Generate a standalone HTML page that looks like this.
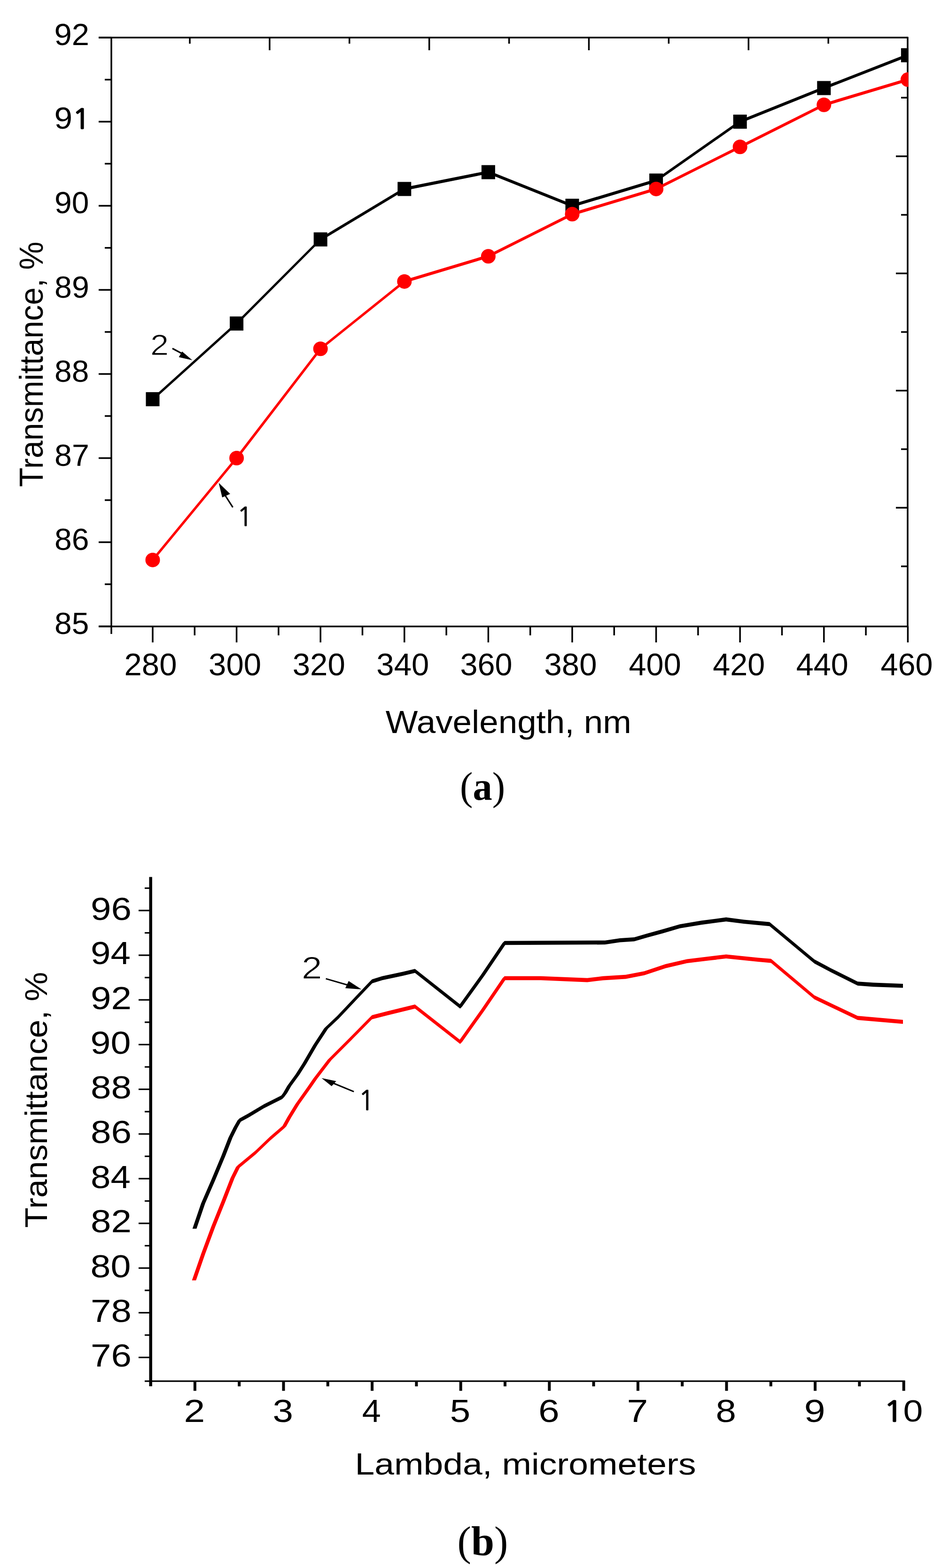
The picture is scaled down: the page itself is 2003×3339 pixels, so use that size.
<!DOCTYPE html>
<html><head><meta charset="utf-8"><title>Transmittance spectra</title>
<style>html,body{margin:0;padding:0;background:#fff}svg{display:block}</style></head>
<body><svg width="2003" height="3339" viewBox="0 0 2003 3339">
<rect width="2003" height="3339" fill="#fff"/>
<line x1="210.0" y1="80.0" x2="1932.0" y2="80.0" stroke="#000" stroke-width="3.5"/>
<line x1="237.0" y1="80.0" x2="237.0" y2="1334.0" stroke="#000" stroke-width="3.5"/>
<line x1="210.0" y1="1334.0" x2="1933.5" y2="1334.0" stroke="#000" stroke-width="3.5"/>
<line x1="1932.0" y1="78.5" x2="1932.0" y2="1335.5" stroke="#000" stroke-width="3.5"/>
<line x1="210.0" y1="80.0" x2="237.0" y2="80.0" stroke="#000" stroke-width="3.5"/>
<line x1="210.0" y1="259.1" x2="237.0" y2="259.1" stroke="#000" stroke-width="3.5"/>
<line x1="210.0" y1="438.2" x2="237.0" y2="438.2" stroke="#000" stroke-width="3.5"/>
<line x1="210.0" y1="617.3" x2="237.0" y2="617.3" stroke="#000" stroke-width="3.5"/>
<line x1="210.0" y1="796.4" x2="237.0" y2="796.4" stroke="#000" stroke-width="3.5"/>
<line x1="210.0" y1="975.5" x2="237.0" y2="975.5" stroke="#000" stroke-width="3.5"/>
<line x1="210.0" y1="1154.6" x2="237.0" y2="1154.6" stroke="#000" stroke-width="3.5"/>
<line x1="210.0" y1="1333.7" x2="237.0" y2="1333.7" stroke="#000" stroke-width="3.5"/>
<line x1="223.0" y1="169.6" x2="237.0" y2="169.6" stroke="#000" stroke-width="3.5"/>
<line x1="223.0" y1="348.6" x2="237.0" y2="348.6" stroke="#000" stroke-width="3.5"/>
<line x1="223.0" y1="527.8" x2="237.0" y2="527.8" stroke="#000" stroke-width="3.5"/>
<line x1="223.0" y1="706.9" x2="237.0" y2="706.9" stroke="#000" stroke-width="3.5"/>
<line x1="223.0" y1="885.9" x2="237.0" y2="885.9" stroke="#000" stroke-width="3.5"/>
<line x1="223.0" y1="1065.0" x2="237.0" y2="1065.0" stroke="#000" stroke-width="3.5"/>
<line x1="223.0" y1="1244.1" x2="237.0" y2="1244.1" stroke="#000" stroke-width="3.5"/>
<line x1="325.0" y1="1334.0" x2="325.0" y2="1368.0" stroke="#000" stroke-width="3.5"/>
<line x1="503.6" y1="1334.0" x2="503.6" y2="1368.0" stroke="#000" stroke-width="3.5"/>
<line x1="682.2" y1="1334.0" x2="682.2" y2="1368.0" stroke="#000" stroke-width="3.5"/>
<line x1="860.8" y1="1334.0" x2="860.8" y2="1368.0" stroke="#000" stroke-width="3.5"/>
<line x1="1039.4" y1="1334.0" x2="1039.4" y2="1368.0" stroke="#000" stroke-width="3.5"/>
<line x1="1218.0" y1="1334.0" x2="1218.0" y2="1368.0" stroke="#000" stroke-width="3.5"/>
<line x1="1396.6" y1="1334.0" x2="1396.6" y2="1368.0" stroke="#000" stroke-width="3.5"/>
<line x1="1575.2" y1="1334.0" x2="1575.2" y2="1368.0" stroke="#000" stroke-width="3.5"/>
<line x1="1753.8" y1="1334.0" x2="1753.8" y2="1368.0" stroke="#000" stroke-width="3.5"/>
<line x1="1932.4" y1="1334.0" x2="1932.4" y2="1368.0" stroke="#000" stroke-width="3.5"/>
<line x1="414.3" y1="1334.0" x2="414.3" y2="1353.0" stroke="#000" stroke-width="3.5"/>
<line x1="592.9" y1="1334.0" x2="592.9" y2="1353.0" stroke="#000" stroke-width="3.5"/>
<line x1="771.5" y1="1334.0" x2="771.5" y2="1353.0" stroke="#000" stroke-width="3.5"/>
<line x1="950.1" y1="1334.0" x2="950.1" y2="1353.0" stroke="#000" stroke-width="3.5"/>
<line x1="1128.7" y1="1334.0" x2="1128.7" y2="1353.0" stroke="#000" stroke-width="3.5"/>
<line x1="1307.3" y1="1334.0" x2="1307.3" y2="1353.0" stroke="#000" stroke-width="3.5"/>
<line x1="1485.9" y1="1334.0" x2="1485.9" y2="1353.0" stroke="#000" stroke-width="3.5"/>
<line x1="1664.5" y1="1334.0" x2="1664.5" y2="1353.0" stroke="#000" stroke-width="3.5"/>
<line x1="1843.1" y1="1334.0" x2="1843.1" y2="1353.0" stroke="#000" stroke-width="3.5"/>
<line x1="237.0" y1="1334.0" x2="237.0" y2="1350.0" stroke="#000" stroke-width="3.5"/>
<line x1="404.0" y1="80.0" x2="404.0" y2="93.0" stroke="#000" stroke-width="3.5"/>
<line x1="573.9" y1="80.0" x2="573.9" y2="107.0" stroke="#000" stroke-width="3.5"/>
<line x1="743.8" y1="80.0" x2="743.8" y2="93.0" stroke="#000" stroke-width="3.5"/>
<line x1="913.7" y1="80.0" x2="913.7" y2="107.0" stroke="#000" stroke-width="3.5"/>
<line x1="1083.6" y1="80.0" x2="1083.6" y2="93.0" stroke="#000" stroke-width="3.5"/>
<line x1="1253.5" y1="80.0" x2="1253.5" y2="107.0" stroke="#000" stroke-width="3.5"/>
<line x1="1423.4" y1="80.0" x2="1423.4" y2="93.0" stroke="#000" stroke-width="3.5"/>
<line x1="1593.3" y1="80.0" x2="1593.3" y2="107.0" stroke="#000" stroke-width="3.5"/>
<line x1="1763.2" y1="80.0" x2="1763.2" y2="93.0" stroke="#000" stroke-width="3.5"/>
<line x1="1918.0" y1="208.0" x2="1932.0" y2="208.0" stroke="#000" stroke-width="3.5"/>
<line x1="1907.0" y1="332.8" x2="1932.0" y2="332.8" stroke="#000" stroke-width="3.5"/>
<line x1="1918.0" y1="457.5" x2="1932.0" y2="457.5" stroke="#000" stroke-width="3.5"/>
<line x1="1907.0" y1="582.2" x2="1932.0" y2="582.2" stroke="#000" stroke-width="3.5"/>
<line x1="1918.0" y1="707.0" x2="1932.0" y2="707.0" stroke="#000" stroke-width="3.5"/>
<line x1="1907.0" y1="831.8" x2="1932.0" y2="831.8" stroke="#000" stroke-width="3.5"/>
<line x1="1918.0" y1="956.5" x2="1932.0" y2="956.5" stroke="#000" stroke-width="3.5"/>
<line x1="1907.0" y1="1081.2" x2="1932.0" y2="1081.2" stroke="#000" stroke-width="3.5"/>
<line x1="1918.0" y1="1206.0" x2="1932.0" y2="1206.0" stroke="#000" stroke-width="3.5"/>
<clipPath id="ca"><rect x="237" y="80" width="1696.5" height="1254"/></clipPath>
<g clip-path="url(#ca)">
<path d="M325.0,846.8L503.6,685.6L503.6,692.3L325.0,853.5ZM500.2,688.9L678.9,509.8L685.6,509.8L507.0,688.9ZM682.2,506.5L860.8,399.0L860.8,405.7L682.2,513.2ZM860.8,399.0L1039.4,363.2L1039.4,369.9L860.8,405.7ZM1039.4,363.2L1218.0,434.8L1218.0,441.6L1039.4,369.9ZM1218.0,434.8L1396.6,381.1L1396.6,387.8L1218.0,441.6ZM1396.6,381.1L1575.2,255.8L1575.2,262.5L1396.6,387.8ZM1575.2,255.8L1753.8,184.1L1753.8,190.8L1575.2,262.5ZM1753.8,184.1L1932.4,114.3L1932.4,121.0L1753.8,190.8ZM503.6,685.6L507.0,688.9L503.6,692.3L500.2,688.9ZM682.2,506.5L685.6,509.8L682.2,513.2L678.9,509.8Z" fill="#000"/>
<rect x="310.5" y="835.1" width="29" height="30" fill="#000"/>
<rect x="489.1" y="673.9" width="29" height="30" fill="#000"/>
<rect x="667.7" y="494.8" width="29" height="30" fill="#000"/>
<rect x="846.3" y="387.4" width="29" height="30" fill="#000"/>
<rect x="1024.9" y="351.6" width="29" height="30" fill="#000"/>
<rect x="1203.5" y="423.2" width="29" height="30" fill="#000"/>
<rect x="1382.1" y="369.5" width="29" height="30" fill="#000"/>
<rect x="1560.7" y="244.1" width="29" height="30" fill="#000"/>
<rect x="1739.3" y="172.5" width="29" height="30" fill="#000"/>
<rect x="1917.9" y="102.6" width="29" height="30" fill="#000"/>
<path d="M321.6,1192.4L500.2,975.5L507.0,975.5L328.4,1192.4ZM500.2,975.5L678.9,742.7L685.6,742.7L507.0,975.5ZM682.2,739.3L860.8,596.0L860.8,602.7L682.2,746.0ZM860.8,596.0L1039.4,542.3L1039.4,549.0L860.8,602.7ZM1039.4,542.3L1218.0,452.8L1218.0,459.5L1039.4,549.0ZM1218.0,452.8L1396.6,399.0L1396.6,405.7L1218.0,459.5ZM1396.6,399.0L1575.2,309.5L1575.2,316.2L1396.6,405.7ZM1575.2,309.5L1753.8,219.9L1753.8,226.6L1575.2,316.2ZM1753.8,219.9L1932.4,166.2L1932.4,172.9L1753.8,226.6ZM682.2,739.3L685.6,742.7L682.2,746.0L678.9,742.7Z" fill="#f00"/>
<circle cx="325.0" cy="1192.4" r="15.5" fill="#f00"/>
<circle cx="503.6" cy="975.5" r="15.5" fill="#f00"/>
<circle cx="682.2" cy="742.7" r="15.5" fill="#f00"/>
<circle cx="860.8" cy="599.4" r="15.5" fill="#f00"/>
<circle cx="1039.4" cy="545.7" r="15.5" fill="#f00"/>
<circle cx="1218.0" cy="456.1" r="15.5" fill="#f00"/>
<circle cx="1396.6" cy="402.4" r="15.5" fill="#f00"/>
<circle cx="1575.2" cy="312.8" r="15.5" fill="#f00"/>
<circle cx="1753.8" cy="223.3" r="15.5" fill="#f00"/>
<circle cx="1932.4" cy="169.6" r="15.5" fill="#f00"/>
</g>
<line x1="367.0" y1="742.0" x2="395.0" y2="757.0" stroke="#000" stroke-width="3.2"/>
<polygon points="387.6,748.5 380.7,760.6 409.4,767.1" fill="#000"/>
<line x1="495.6" y1="1080.4" x2="478.0" y2="1053.0" stroke="#000" stroke-width="3.2"/>
<polygon points="465.6,1028.2 473,1059.2 489.9,1051.8" fill="#000"/>
<line x1="320.7" y1="1867.5" x2="320.7" y2="2952.0" stroke="#000" stroke-width="6.4"/>
<line x1="308.0" y1="2941.2" x2="1926.6" y2="2941.2" stroke="#000" stroke-width="3.2"/>
<line x1="295.0" y1="2890.6" x2="320.7" y2="2890.6" stroke="#000" stroke-width="3.2"/>
<line x1="308.0" y1="2843.0" x2="320.7" y2="2843.0" stroke="#000" stroke-width="3.2"/>
<line x1="295.0" y1="2795.4" x2="320.7" y2="2795.4" stroke="#000" stroke-width="3.2"/>
<line x1="308.0" y1="2747.8" x2="320.7" y2="2747.8" stroke="#000" stroke-width="3.2"/>
<line x1="295.0" y1="2700.3" x2="320.7" y2="2700.3" stroke="#000" stroke-width="3.2"/>
<line x1="308.0" y1="2652.7" x2="320.7" y2="2652.7" stroke="#000" stroke-width="3.2"/>
<line x1="295.0" y1="2605.1" x2="320.7" y2="2605.1" stroke="#000" stroke-width="3.2"/>
<line x1="308.0" y1="2557.5" x2="320.7" y2="2557.5" stroke="#000" stroke-width="3.2"/>
<line x1="295.0" y1="2509.9" x2="320.7" y2="2509.9" stroke="#000" stroke-width="3.2"/>
<line x1="308.0" y1="2462.3" x2="320.7" y2="2462.3" stroke="#000" stroke-width="3.2"/>
<line x1="295.0" y1="2414.8" x2="320.7" y2="2414.8" stroke="#000" stroke-width="3.2"/>
<line x1="308.0" y1="2367.2" x2="320.7" y2="2367.2" stroke="#000" stroke-width="3.2"/>
<line x1="295.0" y1="2319.6" x2="320.7" y2="2319.6" stroke="#000" stroke-width="3.2"/>
<line x1="308.0" y1="2272.0" x2="320.7" y2="2272.0" stroke="#000" stroke-width="3.2"/>
<line x1="295.0" y1="2224.4" x2="320.7" y2="2224.4" stroke="#000" stroke-width="3.2"/>
<line x1="308.0" y1="2176.8" x2="320.7" y2="2176.8" stroke="#000" stroke-width="3.2"/>
<line x1="295.0" y1="2129.2" x2="320.7" y2="2129.2" stroke="#000" stroke-width="3.2"/>
<line x1="308.0" y1="2081.7" x2="320.7" y2="2081.7" stroke="#000" stroke-width="3.2"/>
<line x1="295.0" y1="2034.1" x2="320.7" y2="2034.1" stroke="#000" stroke-width="3.2"/>
<line x1="308.0" y1="1986.5" x2="320.7" y2="1986.5" stroke="#000" stroke-width="3.2"/>
<line x1="295.0" y1="1938.9" x2="320.7" y2="1938.9" stroke="#000" stroke-width="3.2"/>
<line x1="308.0" y1="1891.3" x2="320.7" y2="1891.3" stroke="#000" stroke-width="3.2"/>
<line x1="414.9" y1="2941.2" x2="414.9" y2="2961.7" stroke="#000" stroke-width="6"/>
<line x1="509.2" y1="2941.2" x2="509.2" y2="2952.2" stroke="#000" stroke-width="6"/>
<line x1="603.5" y1="2941.2" x2="603.5" y2="2961.7" stroke="#000" stroke-width="6"/>
<line x1="697.8" y1="2941.2" x2="697.8" y2="2952.2" stroke="#000" stroke-width="6"/>
<line x1="792.1" y1="2941.2" x2="792.1" y2="2961.7" stroke="#000" stroke-width="6"/>
<line x1="886.4" y1="2941.2" x2="886.4" y2="2952.2" stroke="#000" stroke-width="6"/>
<line x1="980.7" y1="2941.2" x2="980.7" y2="2961.7" stroke="#000" stroke-width="6"/>
<line x1="1075.0" y1="2941.2" x2="1075.0" y2="2952.2" stroke="#000" stroke-width="6"/>
<line x1="1169.3" y1="2941.2" x2="1169.3" y2="2961.7" stroke="#000" stroke-width="6"/>
<line x1="1263.6" y1="2941.2" x2="1263.6" y2="2952.2" stroke="#000" stroke-width="6"/>
<line x1="1357.9" y1="2941.2" x2="1357.9" y2="2961.7" stroke="#000" stroke-width="6"/>
<line x1="1452.2" y1="2941.2" x2="1452.2" y2="2952.2" stroke="#000" stroke-width="6"/>
<line x1="1546.5" y1="2941.2" x2="1546.5" y2="2961.7" stroke="#000" stroke-width="6"/>
<line x1="1640.8" y1="2941.2" x2="1640.8" y2="2952.2" stroke="#000" stroke-width="6"/>
<line x1="1735.1" y1="2941.2" x2="1735.1" y2="2961.7" stroke="#000" stroke-width="6"/>
<line x1="1829.4" y1="2941.2" x2="1829.4" y2="2952.2" stroke="#000" stroke-width="6"/>
<line x1="1923.7" y1="2941.2" x2="1923.7" y2="2961.7" stroke="#000" stroke-width="6"/>
<path d="M409.7,2616.6L428.0,2562.7L436.6,2562.7L418.3,2616.6ZM428.0,2562.7L449.6,2513.1L458.2,2513.1L436.6,2562.7ZM449.6,2513.1L471.2,2461.3L479.8,2461.3L458.2,2513.1ZM471.2,2461.3L486.3,2422.5L494.9,2422.5L479.8,2461.3ZM486.3,2422.5L497.0,2400.9L505.6,2400.9L494.9,2422.5ZM497.0,2400.9L505.7,2385.8L514.3,2385.8L505.6,2400.9ZM510.0,2381.5L529.4,2370.8L529.4,2379.4L510.0,2390.1ZM529.4,2370.8L561.7,2351.4L561.7,2360.0L529.4,2379.4ZM561.7,2351.4L600.5,2332.0L600.5,2340.6L561.7,2360.0ZM596.2,2336.3L602.7,2327.6L611.3,2327.6L604.8,2336.3ZM602.7,2327.6L611.3,2312.5L619.9,2312.5L611.3,2327.6ZM611.3,2312.5L628.6,2288.8L637.2,2288.8L619.9,2312.5ZM628.6,2288.8L643.7,2265.1L652.3,2265.1L637.2,2288.8ZM643.7,2265.1L666.7,2225.6L675.3,2225.6L652.3,2265.1ZM666.7,2225.6L689.9,2190.0L698.5,2190.0L675.3,2225.6ZM694.2,2185.7L720.6,2160.8L720.6,2169.4L694.2,2194.3ZM716.3,2165.1L765.9,2112.4L774.5,2112.4L724.9,2165.1ZM765.9,2112.4L787.6,2089.8L796.2,2089.8L774.5,2112.4ZM791.9,2085.5L813.6,2078.7L813.6,2087.3L791.9,2094.1ZM813.6,2078.7L857.0,2069.4L857.0,2078.0L813.6,2087.3ZM857.0,2069.4L883.3,2063.2L883.3,2071.8L857.0,2078.0ZM883.3,2063.2L979.4,2139.1L979.4,2147.7L883.3,2071.8ZM975.1,2143.4L1023.2,2076.8L1031.8,2076.8L983.7,2143.4ZM1023.2,2076.8L1069.7,2008.0L1078.3,2008.0L1031.8,2076.8ZM1074.0,2003.7L1287.9,2002.7L1287.9,2011.3L1074.0,2012.3ZM1287.9,2002.7L1319.7,1997.9L1319.7,2006.5L1287.9,2011.3ZM1319.7,1997.9L1350.0,1996.0L1350.0,2004.6L1319.7,2006.5ZM1350.0,1996.0L1377.4,1987.9L1377.4,1996.5L1350.0,2004.6ZM1377.4,1987.9L1410.7,1978.8L1410.7,1987.4L1377.4,1996.5ZM1410.7,1978.8L1447.1,1968.2L1447.1,1976.8L1410.7,1987.4ZM1447.1,1968.2L1492.6,1960.6L1492.6,1969.2L1447.1,1976.8ZM1492.6,1960.6L1545.6,1953.6L1545.6,1962.2L1492.6,1969.2ZM1545.6,1953.6L1583.5,1958.4L1583.5,1967.0L1545.6,1962.2ZM1583.5,1958.4L1638.1,1963.6L1638.1,1972.2L1583.5,1967.0ZM1638.1,1963.6L1733.5,2043.1L1733.5,2051.7L1638.1,1972.2ZM1733.5,2043.1L1768.9,2061.9L1768.9,2070.5L1733.5,2051.7ZM1768.9,2061.9L1825.5,2090.2L1825.5,2098.8L1768.9,2070.5ZM1825.5,2090.2L1858.5,2092.6L1858.5,2101.2L1825.5,2098.8ZM1858.5,2092.6L1922.0,2094.9L1922.0,2103.5L1858.5,2101.2ZM510.0,2381.5L514.3,2385.8L510.0,2390.1L505.7,2385.8ZM600.5,2332.0L604.8,2336.3L600.5,2340.6L596.2,2336.3ZM694.2,2185.7L698.5,2190.0L694.2,2194.3L689.9,2190.0ZM720.6,2160.8L724.9,2165.1L720.6,2169.4L716.3,2165.1ZM791.9,2085.5L796.2,2089.8L791.9,2094.1L787.6,2089.8ZM979.4,2139.1L983.7,2143.4L979.4,2147.7L975.1,2143.4ZM1074.0,2003.7L1078.3,2008.0L1074.0,2012.3L1069.7,2008.0Z" fill="#000"/>
<path d="M408.6,2726.5L428.0,2670.5L436.6,2670.5L417.2,2726.5ZM428.0,2670.5L449.6,2612.3L458.2,2612.3L436.6,2670.5ZM449.6,2612.3L471.2,2558.4L479.8,2558.4L458.2,2612.3ZM471.2,2558.4L490.6,2508.8L499.2,2508.8L479.8,2558.4ZM490.6,2508.8L502.4,2485.0L511.0,2485.0L499.2,2508.8ZM506.7,2480.7L544.5,2449.5L544.5,2458.1L506.7,2489.3ZM544.5,2449.5L574.7,2420.4L574.7,2429.0L544.5,2458.1ZM574.7,2420.4L604.9,2394.5L604.9,2403.1L574.7,2429.0ZM600.6,2398.8L611.3,2379.4L619.9,2379.4L609.2,2398.8ZM611.3,2379.4L628.6,2351.3L637.2,2351.3L619.9,2379.4ZM628.6,2351.3L654.5,2314.7L663.1,2314.7L637.2,2351.3ZM654.5,2314.7L666.7,2296.9L675.3,2296.9L663.1,2314.7ZM666.7,2296.9L697.7,2256.6L706.3,2256.6L675.3,2296.9ZM702.0,2252.3L748.5,2205.8L748.5,2214.4L702.0,2260.9ZM744.2,2210.1L787.6,2166.1L796.2,2166.1L752.8,2210.1ZM791.9,2161.8L826.0,2153.1L826.0,2161.7L791.9,2170.4ZM826.0,2153.1L883.3,2139.1L883.3,2147.7L826.0,2161.7ZM883.3,2139.1L979.4,2214.5L979.4,2223.1L883.3,2147.7ZM975.1,2218.8L1023.2,2151.2L1031.8,2151.2L983.7,2218.8ZM1023.2,2151.2L1069.7,2083.0L1078.3,2083.0L1031.8,2151.2ZM1074.0,2078.7L1151.0,2078.7L1151.0,2087.3L1074.0,2087.3ZM1151.0,2078.7L1250.0,2082.8L1250.0,2091.4L1151.0,2087.3ZM1250.0,2082.8L1283.4,2078.8L1283.4,2087.4L1250.0,2091.4ZM1283.4,2078.8L1331.9,2075.8L1331.9,2084.4L1283.4,2087.4ZM1331.9,2075.8L1371.3,2068.2L1371.3,2076.8L1331.9,2084.4ZM1371.3,2068.2L1416.8,2053.1L1416.8,2061.7L1371.3,2076.8ZM1416.8,2053.1L1462.3,2042.4L1462.3,2051.0L1416.8,2061.7ZM1462.3,2042.4L1507.7,2037.0L1507.7,2045.6L1462.3,2051.0ZM1507.7,2037.0L1545.6,2032.4L1545.6,2041.0L1507.7,2045.6ZM1545.6,2032.4L1613.9,2039.4L1613.9,2048.0L1545.6,2041.0ZM1613.9,2039.4L1641.2,2041.8L1641.2,2050.4L1613.9,2048.0ZM1641.2,2041.8L1733.5,2119.5L1733.5,2128.1L1641.2,2050.4ZM1733.5,2119.5L1825.5,2163.3L1825.5,2171.9L1733.5,2128.1ZM1825.5,2163.3L1922.0,2171.7L1922.0,2180.3L1825.5,2171.9ZM506.7,2480.7L511.0,2485.0L506.7,2489.3L502.4,2485.0ZM604.9,2394.5L609.2,2398.8L604.9,2403.1L600.6,2398.8ZM702.0,2252.3L706.3,2256.6L702.0,2260.9L697.7,2256.6ZM748.5,2205.8L752.8,2210.1L748.5,2214.4L744.2,2210.1ZM791.9,2161.8L796.2,2166.1L791.9,2170.4L787.6,2166.1ZM979.4,2214.5L983.7,2218.8L979.4,2223.1L975.1,2218.8ZM1074.0,2078.7L1078.3,2083.0L1074.0,2087.3L1069.7,2083.0Z" fill="#f00"/>
<line x1="693.6" y1="2084.1" x2="745.0" y2="2099.0" stroke="#000" stroke-width="3"/>
<polygon points="742.1,2089.1 735,2104.3 769.4,2106.8" fill="#000"/>
<line x1="753.2" y1="2324.7" x2="708.0" y2="2306.0" stroke="#000" stroke-width="3"/>
<polygon points="684.5,2295.8 715.6,2302.3 705.9,2312.9" fill="#000"/>
<text x="115.5" y="96.2" font-family="'Liberation Sans', Arial, sans-serif" font-size="65.71" textLength="74.5" lengthAdjust="spacingAndGlyphs">92</text>
<text x="115.5" y="274.4" font-family="'Liberation Sans', Arial, sans-serif" font-size="63.97" textLength="76.8" lengthAdjust="spacingAndGlyphs">9<tspan font-family="NanumGothic, sans-serif" font-size="91%" stroke="#000" stroke-width="2.4">1</tspan></text>
<text x="116.0" y="454.4" font-family="'Liberation Sans', Arial, sans-serif" font-size="65.71" textLength="73.4" lengthAdjust="spacingAndGlyphs">90</text>
<text x="116.0" y="633.5" font-family="'Liberation Sans', Arial, sans-serif" font-size="65.71" textLength="73.8" lengthAdjust="spacingAndGlyphs">89</text>
<text x="116.0" y="812.6" font-family="'Liberation Sans', Arial, sans-serif" font-size="65.71" textLength="73.4" lengthAdjust="spacingAndGlyphs">88</text>
<text x="116.0" y="991.8" font-family="'Liberation Sans', Arial, sans-serif" font-size="65.71" textLength="73.8" lengthAdjust="spacingAndGlyphs">87</text>
<text x="116.0" y="1170.8" font-family="'Liberation Sans', Arial, sans-serif" font-size="65.71" textLength="73.5" lengthAdjust="spacingAndGlyphs">86</text>
<text x="116.0" y="1350.0" font-family="'Liberation Sans', Arial, sans-serif" font-size="65.71" textLength="73.4" lengthAdjust="spacingAndGlyphs">85</text>
<text x="264.5" y="1438.3" font-family="'Liberation Sans', Arial, sans-serif" font-size="66.07" textLength="112.0" lengthAdjust="spacingAndGlyphs">280</text>
<text x="444.1" y="1438.3" font-family="'Liberation Sans', Arial, sans-serif" font-size="66.07" textLength="112.0" lengthAdjust="spacingAndGlyphs">300</text>
<text x="622.7" y="1438.3" font-family="'Liberation Sans', Arial, sans-serif" font-size="66.07" textLength="112.2" lengthAdjust="spacingAndGlyphs">320</text>
<text x="801.3" y="1438.3" font-family="'Liberation Sans', Arial, sans-serif" font-size="66.07" textLength="112.0" lengthAdjust="spacingAndGlyphs">340</text>
<text x="979.4" y="1438.3" font-family="'Liberation Sans', Arial, sans-serif" font-size="66.07" textLength="111.1" lengthAdjust="spacingAndGlyphs">360</text>
<text x="1158.5" y="1438.3" font-family="'Liberation Sans', Arial, sans-serif" font-size="66.07" textLength="112.0" lengthAdjust="spacingAndGlyphs">380</text>
<text x="1338.6" y="1438.3" font-family="'Liberation Sans', Arial, sans-serif" font-size="66.07" textLength="111.1" lengthAdjust="spacingAndGlyphs">400</text>
<text x="1517.2" y="1438.3" font-family="'Liberation Sans', Arial, sans-serif" font-size="66.07" textLength="111.0" lengthAdjust="spacingAndGlyphs">420</text>
<text x="1694.8" y="1438.3" font-family="'Liberation Sans', Arial, sans-serif" font-size="66.07" textLength="111.0" lengthAdjust="spacingAndGlyphs">440</text>
<text x="1874.4" y="1438.3" font-family="'Liberation Sans', Arial, sans-serif" font-size="66.07" textLength="111.0" lengthAdjust="spacingAndGlyphs">460</text>
<text x="820.8" y="1560.8" font-family="'Liberation Sans', Arial, sans-serif" font-size="69.11" textLength="523.0" lengthAdjust="spacingAndGlyphs">Wavelength, nm</text>
<text transform="translate(91.0,1037.0) rotate(-90)" font-family="'Liberation Sans', Arial, sans-serif" font-size="70.42" textLength="522.5" lengthAdjust="spacingAndGlyphs">Transmittance, %</text>
<text x="979.0" y="1703.4" font-family="'Liberation Serif', 'Times New Roman', serif" font-size="84.03" textLength="96.1" lengthAdjust="spacingAndGlyphs" font-weight="bold"><tspan font-weight="normal">(</tspan>a<tspan font-weight="normal">)</tspan></text>
<text x="320.1" y="756.0" font-family="'Liberation Sans', Arial, sans-serif" font-size="62.44" textLength="39.1" lengthAdjust="spacingAndGlyphs" stroke="#fff" stroke-width="1.0">2</text>
<text x="503.9" y="1119.8" font-family="'Liberation Sans', Arial, sans-serif" font-size="62.13"><tspan font-family="NanumGothic, sans-serif" font-size="91%" stroke="#000" stroke-width="1">1</tspan></text>
<text x="193.0" y="2910.2" font-family="'Liberation Sans', Arial, sans-serif" font-size="68.65" textLength="87.0" lengthAdjust="spacingAndGlyphs">76</text>
<text x="193.0" y="2814.5" font-family="'Liberation Sans', Arial, sans-serif" font-size="68.65" textLength="87.0" lengthAdjust="spacingAndGlyphs">78</text>
<text x="192.5" y="2719.9" font-family="'Liberation Sans', Arial, sans-serif" font-size="68.65" textLength="85.9" lengthAdjust="spacingAndGlyphs">80</text>
<text x="193.0" y="2624.2" font-family="'Liberation Sans', Arial, sans-serif" font-size="68.65" textLength="87.0" lengthAdjust="spacingAndGlyphs">82</text>
<text x="193.0" y="2529.5" font-family="'Liberation Sans', Arial, sans-serif" font-size="68.65" textLength="85.0" lengthAdjust="spacingAndGlyphs">84</text>
<text x="193.0" y="2433.8" font-family="'Liberation Sans', Arial, sans-serif" font-size="68.65" textLength="87.2" lengthAdjust="spacingAndGlyphs">86</text>
<text x="193.0" y="2339.2" font-family="'Liberation Sans', Arial, sans-serif" font-size="68.65" textLength="87.2" lengthAdjust="spacingAndGlyphs">88</text>
<text x="192.5" y="2243.5" font-family="'Liberation Sans', Arial, sans-serif" font-size="68.65" textLength="85.9" lengthAdjust="spacingAndGlyphs">90</text>
<text x="193.0" y="2148.8" font-family="'Liberation Sans', Arial, sans-serif" font-size="68.65" textLength="87.0" lengthAdjust="spacingAndGlyphs">92</text>
<text x="193.0" y="2053.2" font-family="'Liberation Sans', Arial, sans-serif" font-size="68.65" textLength="84.9" lengthAdjust="spacingAndGlyphs">94</text>
<text x="193.0" y="1958.5" font-family="'Liberation Sans', Arial, sans-serif" font-size="68.65" textLength="87.1" lengthAdjust="spacingAndGlyphs">96</text>
<text x="391.5" y="3027.8" font-family="'Liberation Sans', Arial, sans-serif" font-size="69.14" textLength="44.8" lengthAdjust="spacingAndGlyphs">2</text>
<text x="580.6" y="3027.8" font-family="'Liberation Sans', Arial, sans-serif" font-size="69.14" textLength="43.5" lengthAdjust="spacingAndGlyphs">3</text>
<text x="770.7" y="3027.8" font-family="'Liberation Sans', Arial, sans-serif" font-size="69.14" textLength="40.0" lengthAdjust="spacingAndGlyphs">4</text>
<text x="957.8" y="3027.8" font-family="'Liberation Sans', Arial, sans-serif" font-size="69.14" textLength="43.5" lengthAdjust="spacingAndGlyphs">5</text>
<text x="1145.9" y="3027.8" font-family="'Liberation Sans', Arial, sans-serif" font-size="69.14" textLength="44.7" lengthAdjust="spacingAndGlyphs">6</text>
<text x="1334.5" y="3027.8" font-family="'Liberation Sans', Arial, sans-serif" font-size="69.14" textLength="44.8" lengthAdjust="spacingAndGlyphs">7</text>
<text x="1523.6" y="3027.8" font-family="'Liberation Sans', Arial, sans-serif" font-size="69.14" textLength="43.5" lengthAdjust="spacingAndGlyphs">8</text>
<text x="1711.7" y="3027.8" font-family="'Liberation Sans', Arial, sans-serif" font-size="69.14" textLength="44.9" lengthAdjust="spacingAndGlyphs">9</text>
<text x="1881.0" y="3026.8" font-family="'Liberation Sans', Arial, sans-serif" font-size="65.40" textLength="83.4" lengthAdjust="spacingAndGlyphs"><tspan font-family="NanumGothic, sans-serif" font-size="91%" stroke="#000" stroke-width="2.4">1</tspan>0</text>
<text x="755.5" y="3140.0" font-family="'Liberation Sans', Arial, sans-serif" font-size="65.68" textLength="726.0" lengthAdjust="spacingAndGlyphs">Lambda, micrometers</text>
<text transform="translate(100.0,2614.4) rotate(-90)" font-family="'Liberation Sans', Arial, sans-serif" font-size="66.93" textLength="544.8" lengthAdjust="spacingAndGlyphs">Transmittance, %</text>
<text x="973.6" y="3312.0" font-family="'Liberation Serif', 'Times New Roman', serif" font-size="88.35" textLength="107.8" lengthAdjust="spacingAndGlyphs" font-weight="bold"><tspan font-weight="normal">(</tspan>b<tspan font-weight="normal">)</tspan></text>
<text x="642.1" y="2083.6" font-family="'Liberation Sans', Arial, sans-serif" font-size="66.17" textLength="43.5" lengthAdjust="spacingAndGlyphs" stroke="#fff" stroke-width="1.0">2</text>
<text x="762.8" y="2363.7" font-family="'Liberation Sans', Arial, sans-serif" font-size="62.50"><tspan font-family="NanumGothic, sans-serif" font-size="91%" stroke="#000" stroke-width="1">1</tspan></text>
</svg></body></html>
